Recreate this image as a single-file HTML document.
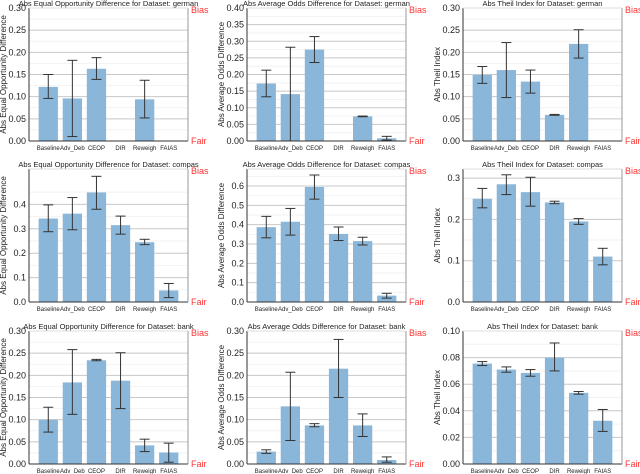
<!DOCTYPE html>
<html><head><meta charset="utf-8"><style>
body{margin:0;background:#fff;}
svg{display:block;font-family:"Liberation Sans","DejaVu Sans",sans-serif;}
</style></head><body>
<svg id="chart" width="640" height="474"></svg>
<script>
const categories = ["Baseline","Adv_Deb","CEOP","DIR","Reweigh","FAIAS"];
const eodGermanVals = [0.122,0.096,0.163,0,0.094,0];
const eodGermanLo = [0.096,0.010,0.139,null,0.052,null];
const eodGermanHi = [0.150,0.182,0.188,null,0.137,null];
const aodGermanVals = [0.173,0.141,0.275,0,0.074,0.008];
const aodGermanLo = [0.133,0.0,0.236,null,0.073,0.003];
const aodGermanHi = [0.213,0.282,0.314,null,0.075,0.014];
const thGermanVals = [0.149,0.160,0.134,0.059,0.219,0.001];
const thGermanLo = [0.130,0.098,0.108,0.058,0.187,null];
const thGermanHi = [0.168,0.222,0.160,0.060,0.251,null];
const eodCompasVals = [0.342,0.362,0.449,0.315,0.245,0.047];
const eodCompasLo = [0.288,0.296,0.380,0.278,0.235,0.018];
const eodCompasHi = [0.398,0.428,0.515,0.352,0.257,0.076];
const aodCompasVals = [0.387,0.415,0.595,0.352,0.315,0.033];
const aodCompasLo = [0.332,0.346,0.532,0.318,0.295,0.020];
const aodCompasHi = [0.443,0.484,0.657,0.388,0.335,0.045];
const thCompasVals = [0.250,0.285,0.266,0.241,0.195,0.110];
const thCompasLo = [0.228,0.260,0.232,0.238,0.188,0.090];
const thCompasHi = [0.275,0.308,0.302,0.244,0.202,0.130];
const eodBankVals = [0.100,0.184,0.234,0.188,0.042,0.026];
const eodBankLo = [0.072,0.112,0.233,0.125,0.028,0.004];
const eodBankHi = [0.128,0.258,0.236,0.251,0.056,0.047];
const aodBankVals = [0.028,0.130,0.087,0.215,0.087,0.009];
const aodBankLo = [0.024,0.053,0.084,0.150,0.062,0.004];
const aodBankHi = [0.032,0.207,0.091,0.281,0.113,0.016];
const thBankVals = [0.0755,0.071,0.0685,0.080,0.0535,0.0325];
const thBankLo = [0.074,0.069,0.066,0.070,0.0525,0.0245];
const thBankHi = [0.077,0.073,0.071,0.091,0.0545,0.041];
const ticks03 = ["0.00","0.05","0.10","0.15","0.20","0.25","0.30"];
const ticks04 = ["0.00","0.05","0.10","0.15","0.20","0.25","0.30","0.35","0.40"];
const ticksC1 = ["0.0","0.1","0.2","0.3","0.4"];
const ticksC2 = ["0.0","0.1","0.2","0.3","0.4","0.5","0.6"];
const ticksC3 = ["0.0","0.1","0.2","0.3"];
const ticks01 = ["0.00","0.02","0.04","0.06","0.08","0.10"];

const NS="http://www.w3.org/2000/svg";
const svg=document.getElementById('chart');
function mk(tag,attrs,parent){const e=document.createElementNS(NS,tag);for(const k in attrs)e.setAttribute(k,attrs[k]);(parent||svg).appendChild(e);return e;}

const cols=[{l:29,r:188},{l:247,r:406},{l:463,r:622}];
const rows=[{t:8,b:141},{t:169,b:302},{t:331,b:464}];
const panels=[
 [0,0,"Abs Equal Opportunity Difference for Dataset: german","Abs Equal Opportunity Difference",0.30,ticks03,eodGermanVals,eodGermanLo,eodGermanHi],
 [0,1,"Abs Average Odds Difference for Dataset: german","Abs Average Odds Difference",0.40,ticks04,aodGermanVals,aodGermanLo,aodGermanHi],
 [0,2,"Abs Theil Index for Dataset: german","Abs Theil Index",0.30,ticks03,thGermanVals,thGermanLo,thGermanHi],
 [1,0,"Abs Equal Opportunity Difference for Dataset: compas","Abs Equal Opportunity Difference",0.545,ticksC1,eodCompasVals,eodCompasLo,eodCompasHi],
 [1,1,"Abs Average Odds Difference for Dataset: compas","Abs Average Odds Difference",0.688,ticksC2,aodCompasVals,aodCompasLo,aodCompasHi],
 [1,2,"Abs Theil Index for Dataset: compas","Abs Theil Index",0.322,ticksC3,thCompasVals,thCompasLo,thCompasHi],
 [2,0,"Abs Equal Opportunity Difference for Dataset: bank","Abs Equal Opportunity Difference",0.30,ticks03,eodBankVals,eodBankLo,eodBankHi],
 [2,1,"Abs Average Odds Difference for Dataset: bank","Abs Average Odds Difference",0.30,ticks03,aodBankVals,aodBankLo,aodBankHi],
 [2,2,"Abs Theil Index for Dataset: bank","Abs Theil Index",0.10,ticks01,thBankVals,thBankLo,thBankHi]
];
panels.forEach((p,pi)=>{
 const [ri,ci,title,ylab,ymax,ticks,vals,lo,hi]=p;
 const C=cols[ci],R=rows[ri];
 const g=mk('g',{});
 
 
 const y=v=>R.b-(v/ymax)*(R.b-R.t);
 const unit=(C.r-C.l)/6.6;
 const x=i=>C.l+(i+0.8)*unit;
 const step=parseFloat(ticks[1]);
 ticks.forEach((t,k)=>{
  const v=parseFloat(t);
  const yy=y(v);
  const ym=y(v+step/2);
  if(ym>R.t+1) mk('line',{x1:C.l,x2:C.r,y1:ym,y2:ym,stroke:'#f2f2f2','stroke-width':1},g);
  if(k>0) mk('line',{x1:C.l,x2:C.r,y1:yy,y2:yy,stroke:'#c8c8c8','stroke-width':1},g);
  const tl=mk('text',{x:C.l-3,y:yy+3,'text-anchor':'end','font-size':9,fill:'#222'},g);
  
  
  tl.textContent=t;
 });
 vals.forEach((v,i)=>{
  const b=mk('rect',{x:x(i)-0.4*unit,y:y(v),width:0.8*unit,height:R.b-y(v),fill:'#8ab6d9'},g);
  
  
  if(lo[i]!==null){
   const e=mk('g',{stroke:'#333','stroke-width':1},g);
   
   
   mk('line',{x1:x(i),x2:x(i),y1:y(lo[i]),y2:y(hi[i])},e);
   mk('line',{x1:x(i)-5,x2:x(i)+5,y1:y(lo[i]),y2:y(lo[i])},e);
   mk('line',{x1:x(i)-5,x2:x(i)+5,y1:y(hi[i]),y2:y(hi[i])},e);
  }
  const xl=mk('text',{x:x(i),y:R.b+9,'text-anchor':'middle','font-size':6,fill:'#222'},g);
  
  
  xl.textContent=categories[i];
 });
 mk('line',{x1:C.l,x2:C.l,y1:R.t,y2:R.b,stroke:'#333'},g);
 mk('line',{x1:C.l,x2:C.r,y1:R.b,y2:R.b,stroke:'#333'},g);
 mk('line',{x1:C.r,x2:C.r,y1:R.t,y2:R.b,stroke:'#999'},g);
 mk('line',{x1:C.l,x2:C.r,y1:R.t,y2:R.t,stroke:'#ddd'},g);
 const tt=mk('text',{x:(C.l+C.r)/2,y:R.t-2,'text-anchor':'middle','font-size':7.5,fill:'#222'},g);
 
 
 tt.textContent=title;
 const yl=mk('text',{x:0,y:0,'text-anchor':'middle','font-size':8,fill:'#222',transform:`translate(${C.l-23},${(R.t+R.b)/2}) rotate(-90)`},g);
 
 
 yl.textContent=ylab;
 const bs=mk('text',{x:C.r+3,y:R.t+5,'font-size':9,fill:'#ff3333'},g);
 
 
 bs.textContent='Bias';
 const fr=mk('text',{x:C.r+3,y:R.b+3,'font-size':9,fill:'#ff3333'},g);
 
 
 fr.textContent='Fair';
});
</script>
</body></html>
